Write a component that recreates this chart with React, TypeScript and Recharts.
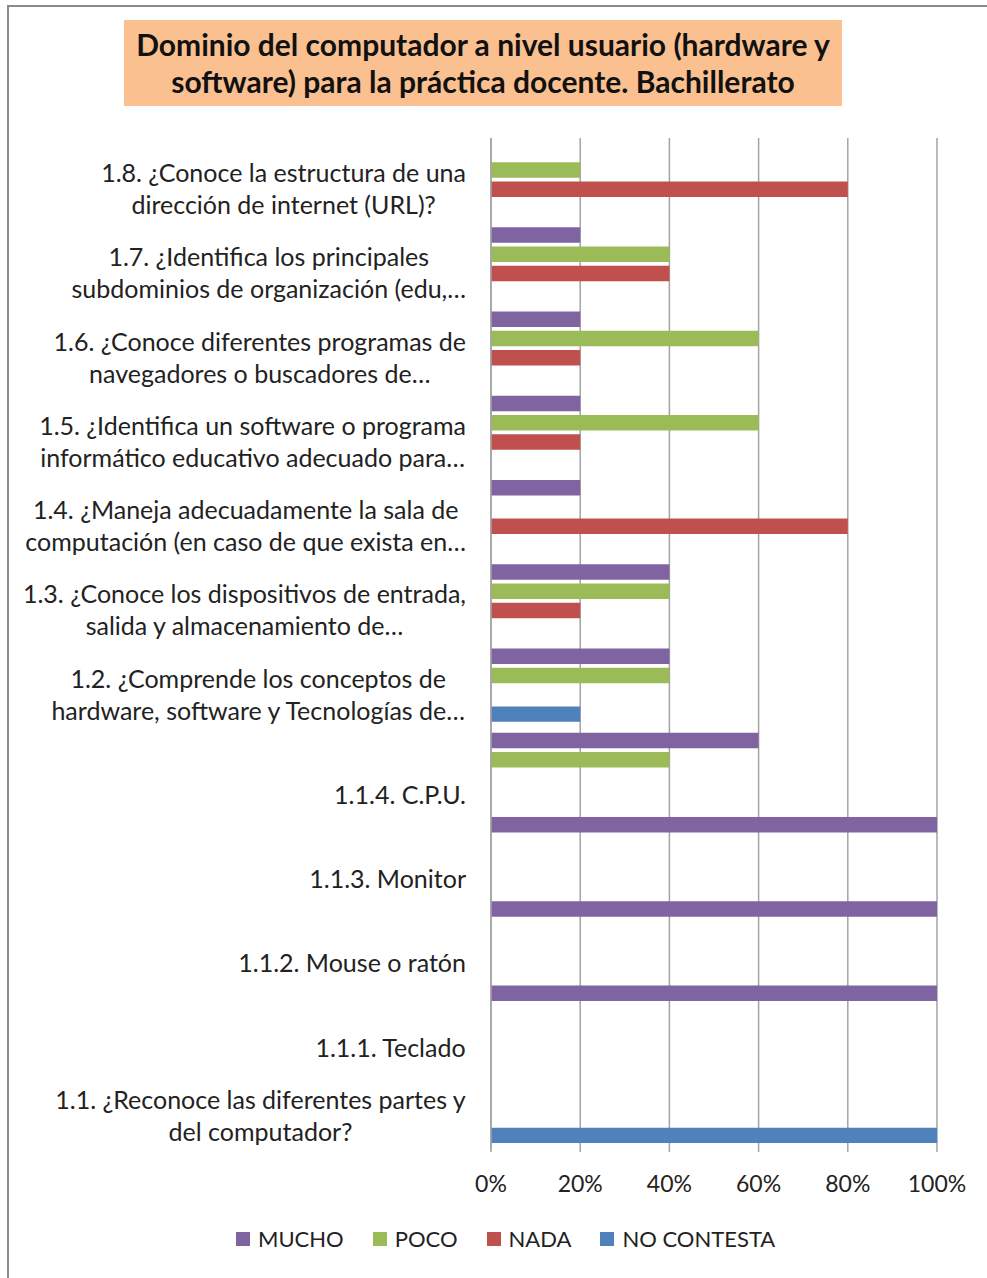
import React from 'react';
import { BarChart, Bar, XAxis, YAxis, CartesianGrid, Legend } from 'recharts';

const categories: string[] = [
  '1.8. ¿Conoce la estructura de una\ndirección de internet (URL)?',
  '1.7. ¿Identifica los principales\nsubdominios de organización (edu,…',
  '1.6. ¿Conoce diferentes programas de\nnavegadores o buscadores de…',
  '1.5. ¿Identifica un software o programa\ninformático educativo adecuado para…',
  '1.4. ¿Maneja adecuadamente la sala de\ncomputación (en caso de que exista en…',
  '1.3. ¿Conoce los dispositivos de entrada,\nsalida y almacenamiento de…',
  '1.2. ¿Comprende los conceptos de\nhardware, software y Tecnologías de…',
  '\n1.1.4. C.P.U.',
  '\n1.1.3. Monitor',
  '\n1.1.2. Mouse o ratón',
  '\n1.1.1. Teclado',
  '1.1. ¿Reconoce las diferentes partes y\ndel computador?',
];

const mucho = [0, 20, 20, 20, 20, 40, 40, 60, 100, 100, 100, 0];
const poco = [20, 40, 60, 60, 0, 40, 40, 40, 0, 0, 0, 0];
const nada = [80, 40, 20, 20, 80, 20, 0, 0, 0, 0, 0, 0];
const noContesta = [0, 0, 0, 0, 0, 0, 20, 0, 0, 0, 0, 100];

const xTicks = [0, 20, 40, 60, 80, 100];

const titleLines = [
  'Dominio del computador a nivel usuario (hardware y',
  'software) para la práctica docente. Bachillerato',
];

const series = [
  { key: 'mucho', name: 'MUCHO', color: '#8064A2' },
  { key: 'poco', name: 'POCO', color: '#9BBB59' },
  { key: 'nada', name: 'NADA', color: '#C0504D' },
  { key: 'noContesta', name: 'NO CONTESTA', color: '#4F81BD' },
];

const data = categories.map((name, i) => ({
  name,
  mucho: mucho[i],
  poco: poco[i],
  nada: nada[i],
  noContesta: noContesta[i],
}));

const FONT_FAMILY = 'Lato, "Open Sans", sans-serif';
const LABEL_SIZE = 25;
const TICK_SIZE = 23;
const LEGEND_SIZE = 22;
const TEXT_COLOR = '#222222';
const GRID_COLOR = '#a3a3a3';

let ctx: CanvasRenderingContext2D | null = null;
function measure(text: string): number {
  if (!ctx) {
    const c = document.createElement('canvas');
    ctx = c.getContext('2d');
  }
  if (!ctx) return text.length * LABEL_SIZE * 0.5;
  ctx.font = `${LABEL_SIZE}px ${FONT_FAMILY}`;
  return ctx.measureText(text).width;
}

const CategoryTick = (props: any) => {
  const { x, y, payload } = props;
  const lines = String(payload.value).split('\n');
  const maxW = Math.max(...lines.map(measure));
  const cx = x - maxW / 2;
  const lineH = 32;
  const startY = y + 8 - ((lines.length - 1) * lineH) / 2;
  return (
    <g>
      {lines.map((l, i) => (
        <text
          key={i}
          x={cx}
          y={startY + i * lineH}
          textAnchor="middle"
          dominantBaseline="central"
          fontFamily={FONT_FAMILY}
          fontSize={LABEL_SIZE}
          fill={TEXT_COLOR}
        >
          {l}
        </text>
      ))}
    </g>
  );
};

const renderLegend = (props: any) => {
  const payload = [...(props.payload || [])].sort(
    (a: any, b: any) =>
      series.findIndex((s) => s.name === a.value) - series.findIndex((s) => s.name === b.value)
  );
  return (
    <div style={{ display: 'flex', alignItems: 'center', whiteSpace: 'nowrap' }}>
      {payload.map((p: any, i: number) => (
        <div
          key={i}
          style={{
            display: 'flex',
            alignItems: 'center',
            marginRight: 29,
            fontFamily: FONT_FAMILY,
            fontSize: LEGEND_SIZE,
            color: TEXT_COLOR,
          }}
        >
          <span
            style={{
              display: 'inline-block',
              width: 14,
              height: 14,
              background: p.color,
              marginRight: 8,
            }}
          />
          <span>{p.value}</span>
        </div>
      ))}
    </div>
  );
};

export default function App() {
  return (
    <div
      style={{
        position: 'absolute',
        left: 0,
        top: 0,
        width: 987,
        height: 1278,
        overflow: 'hidden',
        background: '#ffffff',
      }}
    >
      <div
        style={{
          position: 'absolute',
          left: 7,
          top: 5,
          width: 1010,
          height: 1310,
          border: '2px solid #8a8a8a',
          boxSizing: 'border-box',
        }}
      />
      <div style={{ position: 'absolute', left: 0, top: 0 }}>
        <BarChart
          width={987}
          height={1278}
          layout="vertical"
          data={data}
          margin={{ top: 138, right: 50, bottom: 0, left: 0 }}
          barSize={15.4}
          barGap={3.9}
        >
          <CartesianGrid horizontal={false} vertical={true} stroke={GRID_COLOR} strokeWidth={1.5} />
          <XAxis
            type="number"
            domain={[0, 100]}
            ticks={xTicks}
            tickFormatter={(v: number) => `${v}%`}
            axisLine={false}
            tickLine={{ stroke: GRID_COLOR, strokeWidth: 1.5 }}
            tickSize={3}
            tickMargin={24}
            height={129}
            interval={0}
            tick={{ fontFamily: FONT_FAMILY, fontSize: TICK_SIZE, fill: TEXT_COLOR }}
          />
          <YAxis
            type="category"
            dataKey="name"
            width={491}
            axisLine={{ stroke: GRID_COLOR, strokeWidth: 1.5 }}
            tickLine={false}
            tickSize={0}
            tickMargin={25}
            interval={0}
            tick={<CategoryTick />}
          />
          <Legend
            layout="vertical"
            align="center"
            verticalAlign="middle"
            content={renderLegend}
            wrapperStyle={{ left: 236, top: 1225, width: 700, height: 32 }}
          />
          {series.map((s) => (
            <Bar key={s.key} dataKey={s.key} name={s.name} fill={s.color} isAnimationActive={false} />
          ))}
        </BarChart>
      </div>
      <div
        style={{
          position: 'absolute',
          left: 124,
          top: 20,
          width: 718,
          height: 86,
          background: '#FAC090',
          display: 'flex',
          flexDirection: 'column',
          alignItems: 'center',
          justifyContent: 'center',
          fontFamily: FONT_FAMILY,
          fontWeight: 700,
          fontSize: 30,
          lineHeight: '37px',
          color: '#111111',
        }}
      >
        {titleLines.map((t, i) => (
          <div key={i} style={{ whiteSpace: 'nowrap' }}>{t}</div>
        ))}
      </div>
    </div>
  );
}
